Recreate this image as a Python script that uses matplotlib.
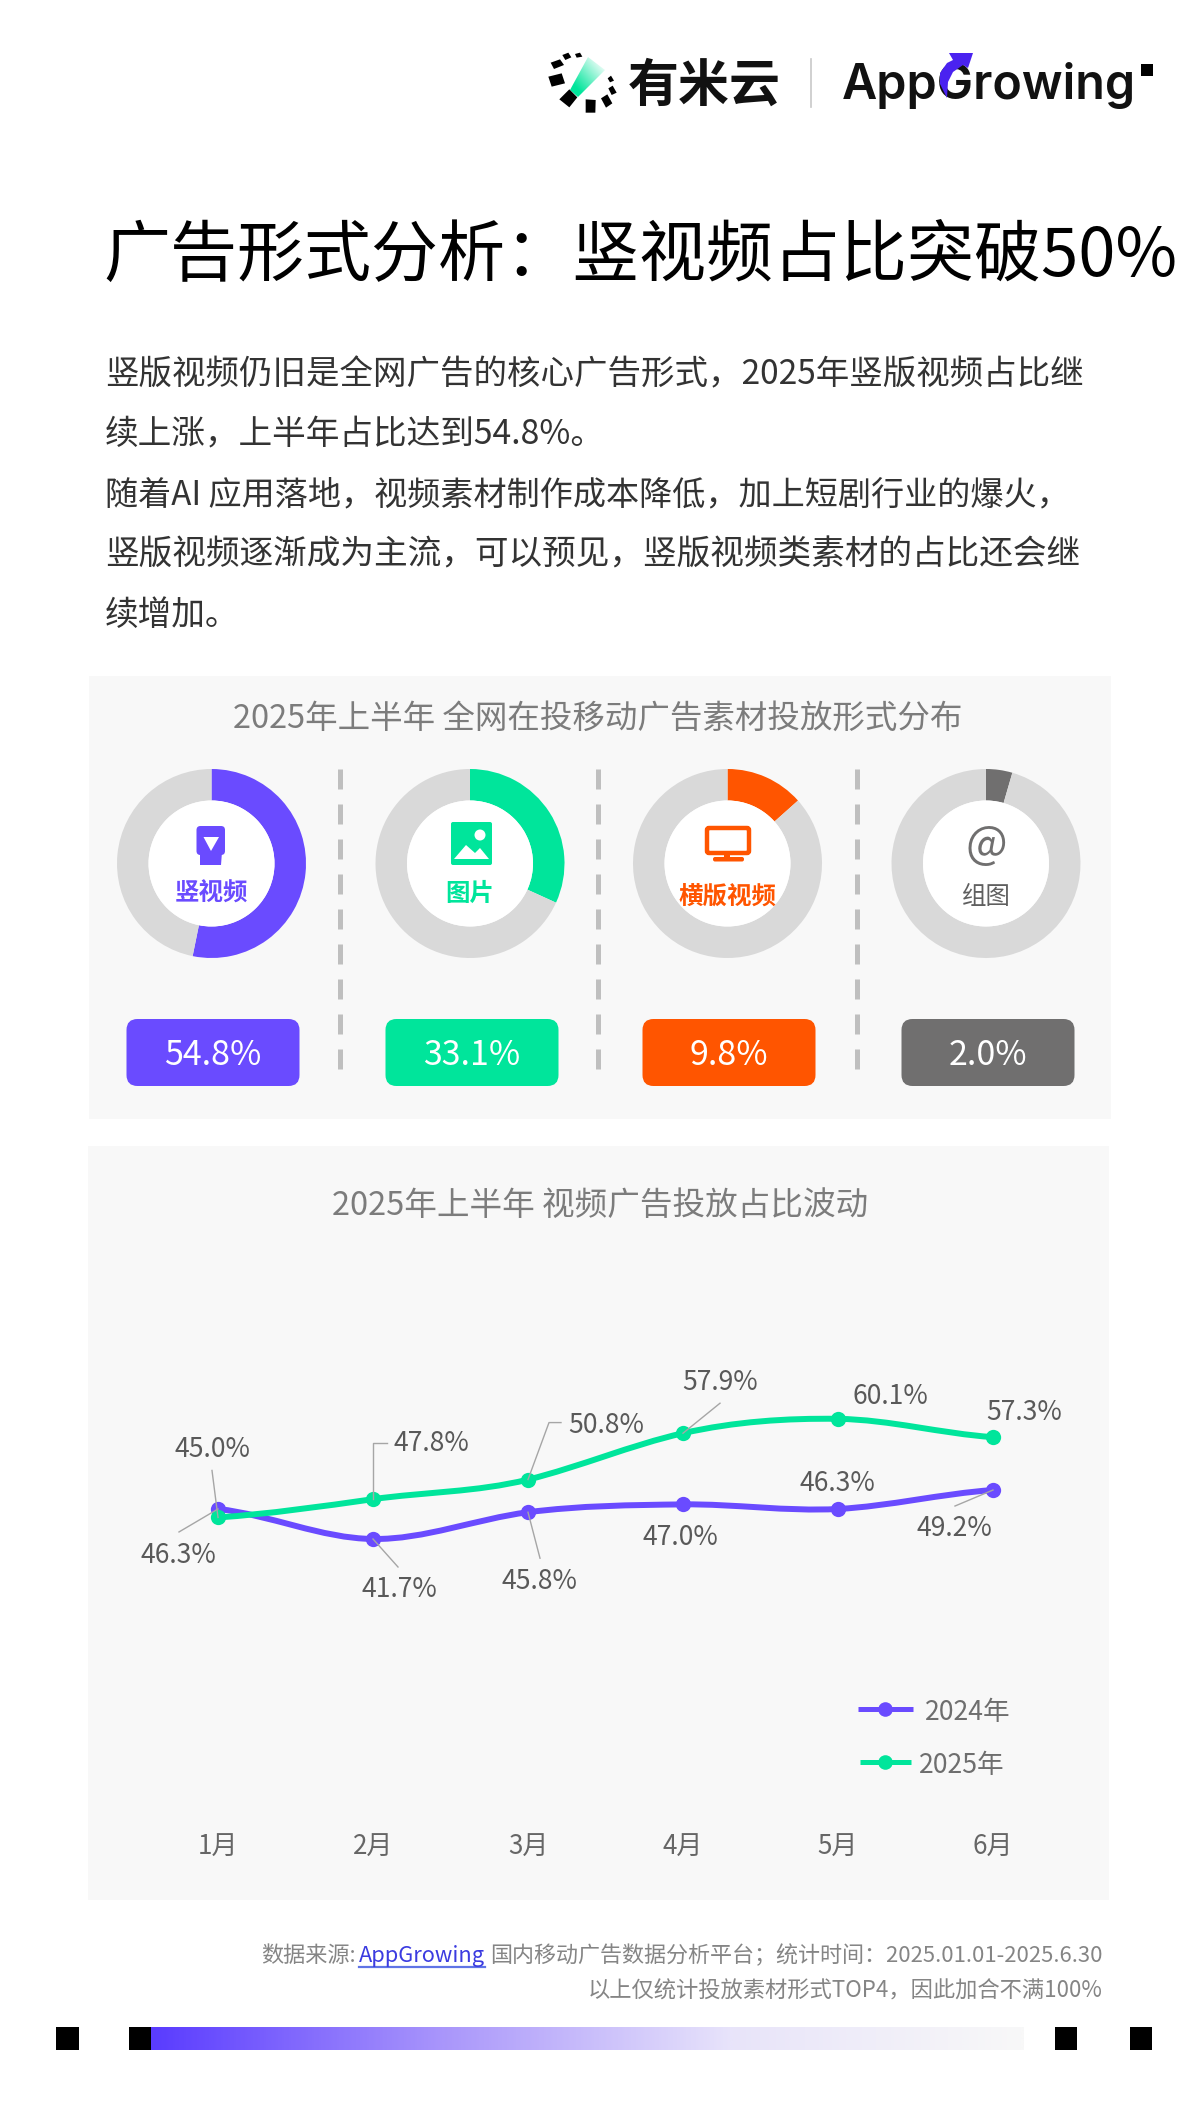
import numpy as np
import matplotlib
matplotlib.use('Agg')
import matplotlib.pyplot as plt
from matplotlib.patches import Rectangle, FancyBboxPatch, Circle, Polygon, PathPatch
from matplotlib.path import Path
from matplotlib.colors import LinearSegmentedColormap

W, H = 1200, 2120
CJK = ['Noto Sans CJK SC', 'DejaVu Sans']
plt.rcParams['font.family'] = CJK

PURPLE = '#6a4bff'
GREEN = '#00e59b'
ORANGE = '#ff5500'
GREY = '#706f6f'
TRACK = '#d9d9d9'
PANEL = '#f8f8f8'

# data
months = ['1月', '2月', '3月', '4月', '5月', '6月']
share_2024 = [46.3, 41.7, 45.8, 47.0, 46.3, 49.2]
share_2025 = [45.0, 47.8, 50.8, 57.9, 60.1, 57.3]
formats = ['竖视频', '图片', '横版视频', '组图']
format_share = [54.8, 33.1, 9.8, 2.0]
# the rings in the source are not drawn to the printed share, these are the measured arcs
ring_arc = [53.2, 31.8, 13.4, 4.5]
format_colors = [PURPLE, GREEN, ORANGE, GREY]

title = '广告形式分析：竖视频占比突破50%'
body = ['竖版视频仍旧是全网广告的核心广告形式，2025年竖版视频占比继',
        '续上涨，上半年占比达到54.8%。',
        '随着AI 应用落地，视频素材制作成本降低，加上短剧行业的爆火，',
        '竖版视频逐渐成为主流，可以预见，竖版视频类素材的占比还会继',
        '续增加。']

# label positions, pixels from the point
offs_2024 = [(-40, 44), (26, 48), (11, 67), (-3, 30), (-1, -28), (-39, 36)]
offs_2025 = [(-6, -71), (58, -58), (78, -57), (37, -53), (52, -25), (31, -27)]
lead_2024 = [[(-39, 23), (0, 0)], [(25, 28), (0, 0)], [(12, 46), (0, 0)], None, None, [(-38, 16), (0, 0)]]
lead_2025 = [[(-6, -47), (0, 0)], [(14, -56), (0, -56), (0, 0)], [(33, -57), (21, -57), (0, 0)],
             [(37, -30), (0, 0)], None, None]

fig = plt.figure(figsize=(W / 100, H / 100), dpi=100, facecolor='white')


def px_axes(z):
    a = fig.add_axes([0, 0, 1, 1], zorder=z)
    a.set_xlim(0, W)
    a.set_ylim(H, 0)
    a.axis('off')
    return a


base = px_axes(0)
top = px_axes(5)


def txt(a, x, y, s, px, color, ha='left', va='center', weight='normal', family=None):
    # va center sits a bit high for the CJK face
    if va == 'center':
        y = y + px * 0.1
    return a.text(x, y, s, fontsize=px * 0.72, color=color, ha=ha, va=va,
                  fontweight=weight, family=family or CJK)


# logo
logo_blocks = [[(88, 178), (118, 148), (142, 172), (118, 202)],
               [(167, 178), (197, 180), (196, 218), (167, 218)],
               [(213, 175), (232, 163), (247, 190), (228, 203)],
               [(235, 145), (248, 137), (260, 158), (245, 165)],
               [(233, 115), (243, 107), (252, 122), (240, 127)],
               [(55, 110), (95, 100), (105, 130), (65, 140)],
               [(62, 68), (90, 58), (102, 75), (72, 87)],
               [(97, 45), (115, 38), (124, 52), (106, 60)],
               [(135, 42), (150, 38), (157, 50), (140, 53)]]
for b in logo_blocks:
    base.add_patch(Polygon([(530 + x / 3, 40 + y / 3) for x, y in b], color='black', lw=0))
gx, gy = np.meshgrid(np.linspace(0, 1, 60), np.linspace(0, 1, 60))
fade = LinearSegmentedColormap.from_list('fade', ['white', GREEN])
im = base.imshow(0.5 * gx[:, ::-1] + 0.5 * gy, cmap=fade, extent=(570, 606, 97, 56), aspect='auto', vmin=0.1, vmax=0.8)
im.set_clip_path(Polygon([(570, 90), (578, 97), (605, 70), (588, 57)], transform=base.transData))
txt(base, 628, 81, '有米云', 51, '#111111', weight='bold')
base.plot([811, 811], [59, 107], color='#c8c8c8', lw=1.2)
txt(base, 842, 99, 'AppGrowing', 48.5, '#111111', va='baseline', weight='semibold', family=['Inter', 'DejaVu Sans'])
base.add_patch(Polygon([(949, 53), (973, 53), (968, 68), (963, 65), (953, 72), (948, 82), (947, 98), (940, 84),
                        (940, 73), (947, 63), (953, 60)], color='#4a22f0', lw=0, zorder=4))
base.add_patch(Rectangle((1141, 64), 11.5, 11.5, color='black', lw=0))

# heading
txt(base, 103, 250, title, 67, '#000000', weight='medium')
body_px = [33.5, 33.7, 33.1, 33.7, 33.7]
for y, line, size in zip([371, 431, 492, 552, 612], body, body_px):
    txt(base, 105, y, line, size, '#333333')

# format panel
base.add_patch(Rectangle((89, 676), 1022, 443, color=PANEL, lw=0))
txt(base, 598, 716, '2025年上半年 全网在投移动广告素材投放形式分布', 32.5, '#7c7c7c', ha='center')

ring_x = [211.5, 470, 727.5, 986]
pill_x = [213, 472, 729, 988]
ring_y, R, r_in = 863.5, 94.5, 63
for i in range(4):
    ax = fig.add_axes([(ring_x[i] - R) / W, 1 - (ring_y + R) / H, 2 * R / W, 2 * R / H], zorder=1)
    ax.pie([ring_arc[i], 100 - ring_arc[i]], colors=[format_colors[i], TRACK], startangle=90, counterclock=False,
           radius=1, wedgeprops=dict(width=1 - r_in / R, linewidth=0))
    ax.add_patch(Circle((0, 0), r_in / R, color='white', lw=0))
    ax.set_xlim(-1, 1)
    ax.set_ylim(-1, 1)
    ax.patch.set_visible(False)
    base.add_patch(FancyBboxPatch((pill_x[i] - 86.5, 1019), 173, 67, boxstyle='round,pad=0,rounding_size=11',
                                  color=format_colors[i], lw=0))
    txt(base, pill_x[i], 1052, '%.1f%%' % format_share[i], 34, 'white', ha='center')
    weight = 'bold' if i < 3 else 'normal'
    col = format_colors[i] if i < 3 else '#5f5f5f'
    txt(top, ring_x[i], 891 if i < 2 else 895, formats[i], 24.5, col, ha='center', weight=weight)

for x in [340, 598, 857]:
    base.plot([x, x], [769, 1069], color='#bfbfbf', lw=3.6, dashes=(4, 3), dash_capstyle='butt')

# icons
top.add_patch(FancyBboxPatch((196.5, 826), 28.5, 29, boxstyle='round,pad=0,rounding_size=4', color=PURPLE, lw=0))
top.add_patch(Polygon([(200, 852), (222, 852), (221, 865), (200, 865)], color=PURPLE, lw=0))
top.add_patch(Polygon([(203.5, 837), (219, 837), (211, 851)], color='white', lw=0))
top.add_patch(FancyBboxPatch((451, 822), 41, 43, boxstyle='round,pad=0,rounding_size=2', color=GREEN, lw=0))
top.add_patch(Circle((480, 835), 5.5, color='white', lw=0))
top.add_patch(Polygon([(454, 859), (466, 845), (475, 853), (480, 848), (489, 859)], color='white', lw=0))
top.add_patch(FancyBboxPatch((707, 828), 42, 25, boxstyle='round,pad=0,rounding_size=2', fc='white', ec=ORANGE, lw=3.2))
top.add_patch(Rectangle((724, 855), 6, 3, color=ORANGE, lw=0))
top.add_patch(FancyBboxPatch((713, 857), 31, 4.5, boxstyle='round,pad=0,rounding_size=2', color=ORANGE, lw=0))
txt(top, 986, 841, '@', 44, GREY, ha='center')

# trend panel
base.add_patch(Rectangle((88, 1146), 1021, 754, color=PANEL, lw=0))
txt(base, 600, 1203, '2025年上半年 视频广告投放占比波动', 32.6, '#7c7c7c', ha='center')

X0, DX = 218, 155
Y_REF, V_REF, PX_PER = 1539, 41.7, 6.53
L, Rt, T, B = 88, 1109, 1146, 1825
chart = fig.add_axes([L / W, 1 - B / H, (Rt - L) / W, (B - T) / H], zorder=2)
chart.set_xlim((L - X0) / DX, (Rt - X0) / DX)
chart.set_ylim(V_REF - (B - Y_REF) / PX_PER, V_REF + (Y_REF - T) / PX_PER)
chart.patch.set_visible(False)
for s in chart.spines.values():
    s.set_visible(False)
chart.set_yticks([])
chart.set_xticks(range(len(months)), months)
chart.tick_params(axis='x', length=0, pad=6.5, labelsize=26 * 0.72, labelcolor='#666666')


def smooth(vals, k=1.15):
    # cubic segments through the points
    v = list(vals)
    n = len(v)
    verts = [(0, v[0])]
    codes = [Path.MOVETO]
    for i in range(n - 1):
        prev = v[max(i - 1, 0)]
        nxt = v[min(i + 2, n - 1)]
        verts += [(i + 1 / 3, v[i] + (v[i + 1] - prev) / 6 * k),
                  (i + 2 / 3, v[i + 1] - (nxt - v[i]) / 6 * k),
                  (i + 1, v[i + 1])]
        codes += [Path.CURVE4] * 3
    return Path(verts, codes)


for vals, col in [(share_2024, PURPLE), (share_2025, GREEN)]:
    chart.add_patch(PathPatch(smooth(vals), fill=False, ec=col, lw=4.3, zorder=3, capstyle='round'))
    chart.plot(range(len(vals)), vals, ls='none', marker='o', ms=11, mfc=col, mec=col, mew=0, zorder=3)

for vals, offs, leads in [(share_2024, offs_2024, lead_2024), (share_2025, offs_2025, lead_2025)]:
    for i, v in enumerate(vals):
        dx, dy = offs[i]
        chart.text(i + dx / DX, v - (dy + 2.7) / PX_PER, '%.1f%%' % v, fontsize=26.5 * 0.72, color='#595959',
                   ha='center', va='center', zorder=5)
        if leads[i]:
            xs = [i + p[0] / DX for p in leads[i]]
            ys = [v - p[1] / PX_PER for p in leads[i]]
            chart.plot(xs, ys, color='#a6a6a6', lw=1, zorder=4)

# legend
for y, x0, x1, tx, lab, col in [(1709, 858, 913, 925, '2024年', PURPLE), (1762, 860, 911, 919, '2025年', GREEN)]:
    top.plot([x0, x1], [y, y], color=col, lw=3.6, solid_capstyle='butt')
    top.plot([885], [y], marker='o', ms=10.5, mfc=col, mec=col, mew=0)
    txt(top, tx, y + 1, lab, 26.6, '#6e6e6e')

# footer
FOOT = '#858585'
txt(base, 356, 1954, '数据来源:', 22.2, FOOT, ha='right')
txt(base, 359, 1954, 'AppGrowing', 21.8, '#3b3be0')
base.plot([359, 485], [1967, 1967], color='#5f74e6', lw=1.6)
txt(base, 1103, 1954, '国内移动广告数据分析平台；统计时间：2025.01.01-2025.6.30', 22.05, FOOT, ha='right')
txt(base, 1103, 1989, '以上仅统计投放素材形式TOP4，因此加合不满100%', 22.3, FOOT, ha='right')

bar = LinearSegmentedColormap.from_list('bar', ['#5a3cff', '#a996fb', '#e8e4fa', '#f8f8f8'])
base.imshow(np.linspace(0, 1, 400).reshape(1, -1), cmap=bar, extent=(151, 1024, 2050, 2027), aspect='auto')
for x0, x1 in [(56, 79), (129, 151), (1055, 1077), (1129.5, 1152)]:
    base.add_patch(Rectangle((x0, 2027), x1 - x0, 23, color='black', lw=0))

base.set_xlim(0, W)
base.set_ylim(H, 0)
fig.savefig('out.png', dpi=100)
